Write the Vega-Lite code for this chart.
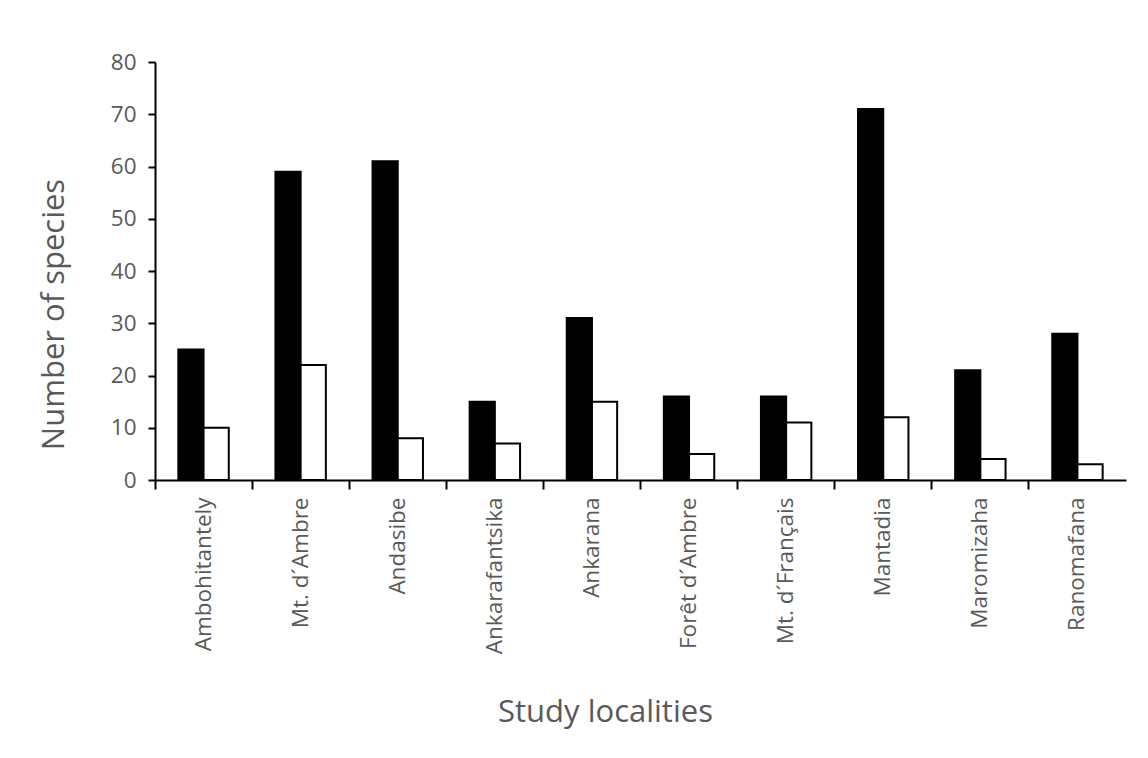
{
  "$schema": "https://vega.github.io/schema/vega-lite/v6.json",
  "autosize": {"type": "none"},
  "width": 971,
  "height": 418,
  "padding": {"left": 155, "top": 62, "right": 22, "bottom": 278},
  "background": "white",
  "config": {
    "view": {"stroke": null},
    "font": "Open Sans"
  },
  "data": {
    "values": [
      {"locality": "Ambohitantely", "series": "Series 1", "species": 25},
      {"locality": "Ambohitantely", "series": "Series 2", "species": 10},
      {"locality": "Mt. d´Ambre", "series": "Series 1", "species": 59},
      {"locality": "Mt. d´Ambre", "series": "Series 2", "species": 22},
      {"locality": "Andasibe", "series": "Series 1", "species": 61},
      {"locality": "Andasibe", "series": "Series 2", "species": 8},
      {"locality": "Ankarafantsika", "series": "Series 1", "species": 15},
      {"locality": "Ankarafantsika", "series": "Series 2", "species": 7},
      {"locality": "Ankarana", "series": "Series 1", "species": 31},
      {"locality": "Ankarana", "series": "Series 2", "species": 15},
      {"locality": "Forêt d´Ambre", "series": "Series 1", "species": 16},
      {"locality": "Forêt d´Ambre", "series": "Series 2", "species": 5},
      {"locality": "Mt. d´Français", "series": "Series 1", "species": 16},
      {"locality": "Mt. d´Français", "series": "Series 2", "species": 11},
      {"locality": "Mantadia", "series": "Series 1", "species": 71},
      {"locality": "Mantadia", "series": "Series 2", "species": 12},
      {"locality": "Maromizaha", "series": "Series 1", "species": 21},
      {"locality": "Maromizaha", "series": "Series 2", "species": 4},
      {"locality": "Ranomafana", "series": "Series 1", "species": 28},
      {"locality": "Ranomafana", "series": "Series 2", "species": 3}
    ]
  },
  "mark": {"type": "bar", "stroke": "black", "strokeWidth": 2},
  "encoding": {
    "x": {
      "field": "locality",
      "type": "nominal",
      "sort": null,
      "scale": {"paddingInner": 0, "paddingOuter": 0},
      "axis": {
        "title": "Study localities",
        "bandPosition": 0,
        "labelAngle": 270,
        "labelFontSize": 22.5,
        "labelColor": "#595959",
        "labelPadding": 8,
        "tickSize": 9,
        "tickColor": "black",
        "tickWidth": 2,
        "domainColor": "black",
        "domainWidth": 2,
        "titleFontSize": 31,
        "titleFontWeight": "normal",
        "titleColor": "#595959",
        "titleX": 450,
        "titleY": 241,
        "titleBaseline": "alphabetic",
        "titleAlign": "center"
      }
    },
    "xOffset": {
      "field": "series",
      "type": "nominal",
      "sort": ["Series 1", "Series 2"],
      "scale": {"paddingInner": 0, "paddingOuter": 0.926}
    },
    "y": {
      "field": "species",
      "type": "quantitative",
      "scale": {"domain": [0, 80], "nice": false},
      "axis": {
        "title": "Number of species",
        "values": [0, 10, 20, 30, 40, 50, 60, 70, 80],
        "grid": false,
        "labelFontSize": 22.5,
        "labelColor": "#595959",
        "labelPadding": 12,
        "tickSize": 7,
        "tickColor": "black",
        "tickWidth": 2,
        "domainColor": "black",
        "domainWidth": 2,
        "titleFontSize": 31,
        "titleFontWeight": "normal",
        "titleColor": "#595959",
        "titleX": -92,
        "titleY": 252,
        "titleAngle": -90,
        "titleBaseline": "alphabetic",
        "titleAlign": "center"
      }
    },
    "color": {
      "field": "series",
      "type": "nominal",
      "scale": {"domain": ["Series 1", "Series 2"], "range": ["black", "white"]},
      "legend": null
    }
  }
}
